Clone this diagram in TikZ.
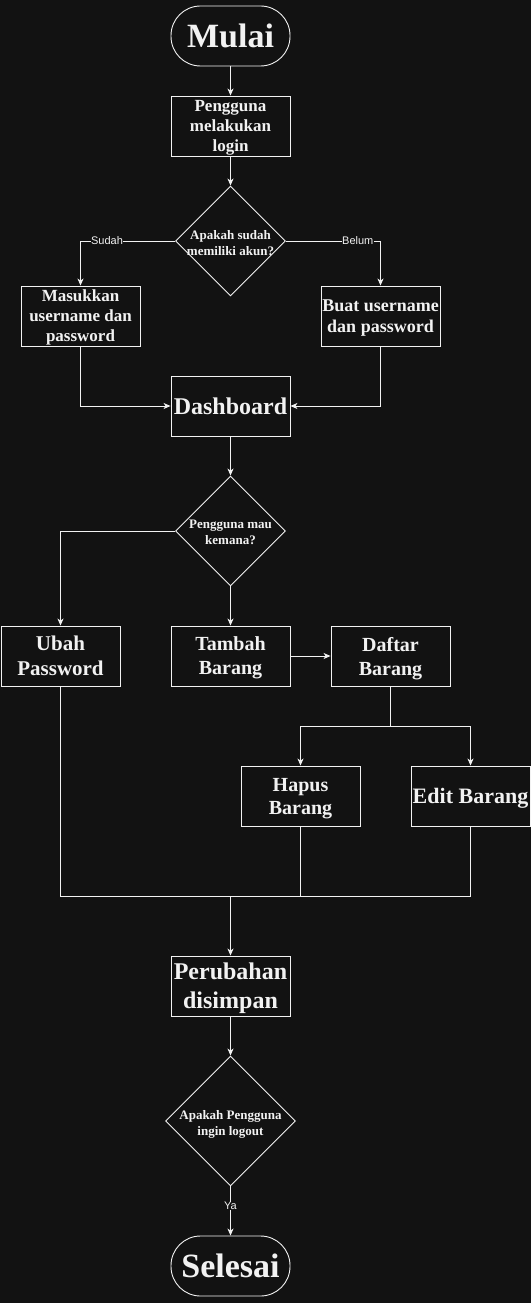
\documentclass[tikz,border=0pt]{standalone}
\usepackage{fontspec}
\setmainfont{Liberation Serif}
\newfontfamily\labelfont{Liberation Sans}
\usetikzlibrary{shapes.geometric,arrows.meta}
\definecolor{bgdark}{HTML}{121212}
\definecolor{ink}{HTML}{F2F2F2}
\tikzset{
	box/.style={draw=ink,line width=0.9pt,minimum width=119pt,minimum height=60pt,inner sep=0pt,align=center,text=ink,text depth=0pt},
	terminal/.style={box,rounded corners=29.5pt},
	decision/.style={draw=ink,line width=0.9pt,diamond,inner sep=0pt,minimum width=#1,minimum height=#1},
	qtext/.style={text=ink,align=center,text depth=0pt,yshift=-1.5pt,font=\bfseries\fontsize{13}{16}\selectfont},
	flow/.style={draw=ink,line width=0.9pt,-{Stealth[length=7pt,width=6pt,inset=2pt]}},
	link/.style={draw=ink,line width=0.9pt},
	edgelabel/.style={fill=bgdark,text=ink,inner sep=0.5pt,font=\labelfont\fontsize{11}{13}\selectfont},
}
\begin{document}
\begin{tikzpicture}[x=1pt,y=-1pt]
		\fill[bgdark](0,0) rectangle (531,1303);
		\useasboundingbox (0,0) rectangle (531,1303);
		% start and login
		\node[terminal,font=\bfseries\fontsize{34}{40}\selectfont] (mulai) at (230.5,36) {Mulai};
		\node[box,font=\bfseries\fontsize{17}{20}\selectfont] (login) at (230.5,126) {Pengguna\\melakukan\\login};
		\node[decision=110pt,label={[qtext]center:{Apakah sudah\\memiliki akun?}}] (akun) at (230.5,241) {};
		\node[box,font=\bfseries\fontsize{17}{20}\selectfont] (masuk) at (80.5,316) {Masukkan\\username dan\\password};
		\node[box,font=\bfseries\fontsize{18}{21}\selectfont] (buat) at (380.5,316) {Buat username\\dan password};
		\node[box,font=\bfseries\fontsize{24}{28}\selectfont] (dash) at (230.5,406) {Dashboard};
		% menu
		\node[decision=110pt,label={[qtext]center:{Pengguna mau\\kemana?}}] (menu) at (230.5,531) {};
		\node[box,font=\bfseries\fontsize{21}{25}\selectfont] (ubah) at (60.5,656) {Ubah\\Password};
		\node[box,font=\bfseries\fontsize{20}{24}\selectfont] (tambah) at (230.5,656) {Tambah\\Barang};
		\node[box,font=\bfseries\fontsize{20}{24}\selectfont] (daftar) at (390.5,656) {Daftar\\Barang};
		\node[box,font=\bfseries\fontsize{20}{23}\selectfont] (hapus) at (300.5,796) {Hapus\\Barang};
		\node[box,font=\bfseries\fontsize{22}{26}\selectfont] (edit) at (470.5,796) {Edit Barang};
		% end
		\node[box,font=\bfseries\fontsize{24}{29}\selectfont] (simpan) at (230.5,986) {Perubahan\\disimpan};
		\node[decision=130pt,label={[qtext]center:{Apakah Pengguna\\ingin logout}}] (logout) at (230.5,1121) {};
		\node[terminal,font=\bfseries\fontsize{34}{40}\selectfont] (selesai) at (230.5,1266) {Selesai};
		\coordinate (cabang) at (390.5,726);
		\coordinate (gabung) at (230.5,896);

		\draw[flow](mulai)--(login);
		\draw[flow](login)--(akun);
		\draw[flow](akun.west)-|(masuk.north) node[edgelabel,pos=0.36]{Sudah};
		\draw[flow](akun.east)-|(buat.north) node[edgelabel,pos=0.38]{Belum};
		\draw[flow](masuk.south)|-(dash.west);
		\draw[flow](buat.south)|-(dash.east);
		\draw[flow](dash)--(menu);
		\draw[flow](menu.west)-|(ubah.north);
		\draw[flow](menu.south)--(tambah.north);
		\draw[flow](tambah.east)--(daftar.west);
		\draw[link](daftar.south)--(cabang);
		\draw[flow](cabang)-|(hapus.north);
		\draw[flow](cabang)-|(edit.north);
		\draw[link](ubah.south)|-(gabung);
		\draw[link](hapus.south)|-(gabung);
		\draw[link](edit.south)|-(gabung);
		\draw[flow](gabung)--(simpan.north);
		\draw[flow](simpan)--(logout);
		\draw[flow](logout.south)--(selesai.north) node[edgelabel,pos=0.4]{Ya};
	\end{tikzpicture}
\end{document}
